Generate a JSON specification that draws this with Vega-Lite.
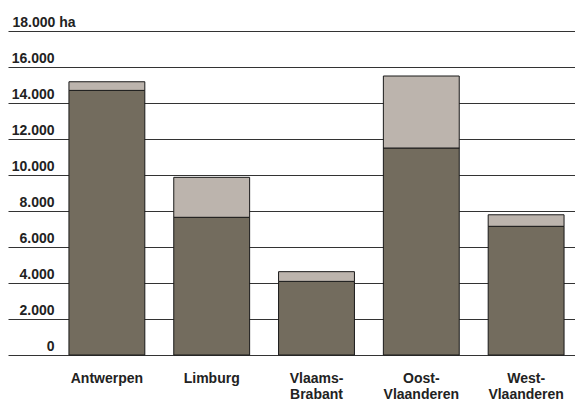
{
  "$schema": "https://vega.github.io/schema/vega-lite/v6.json",
  "width": 567,
  "height": 324,
  "autosize": {"type": "none"},
  "padding": {"left": 8, "top": 31, "right": 0, "bottom": 48},
  "background": "white",
  "data": {
    "values": [
      {"regio": "Antwerpen", "deel": "a", "ha": 14700},
      {"regio": "Antwerpen", "deel": "b", "ha": 480},
      {"regio": "Limburg", "deel": "a", "ha": 7650},
      {"regio": "Limburg", "deel": "b", "ha": 2220},
      {"regio": "Vlaams-Brabant", "deel": "a", "ha": 4090},
      {"regio": "Vlaams-Brabant", "deel": "b", "ha": 540},
      {"regio": "Oost-Vlaanderen", "deel": "a", "ha": 11500},
      {"regio": "Oost-Vlaanderen", "deel": "b", "ha": 4000},
      {"regio": "West-Vlaanderen", "deel": "a", "ha": 7150},
      {"regio": "West-Vlaanderen", "deel": "b", "ha": 640}
    ]
  },
  "mark": {"type": "bar", "stroke": "#1a1a1a", "strokeWidth": 1, "xOffset": 25, "x2Offset": 25},
  "encoding": {
    "x": {
      "field": "regio",
      "type": "nominal",
      "sort": null,
      "scale": {"paddingInner": 0.276, "paddingOuter": 0.343},
      "axis": {
        "title": null,
        "domain": false,
        "ticks": false,
        "labelAngle": 0,
        "labelOffset": 25,
        "labelPadding": 16,
        "labelBaseline": "top",
        "labelFont": "Liberation Sans",
        "labelFontWeight": "bold",
        "labelFontSize": 14,
        "labelColor": "#222",
        "labelLineHeight": 16,
        "labelExpr": "split(replace(datum.label, '-', '-|'), '|')"
      }
    },
    "y": {
      "field": "ha",
      "type": "quantitative",
      "stack": "zero",
      "scale": {"domain": [0, 18000], "nice": false},
      "axis": {
        "title": null,
        "domain": false,
        "ticks": false,
        "values": [0, 2000, 4000, 6000, 8000, 10000, 12000, 14000, 16000, 18000],
        "grid": true,
        "gridColor": "#333",
        "gridWidth": 1,
        "gridOpacity": 1,
        "labelFont": "Liberation Sans",
        "labelFontWeight": "bold",
        "labelFontSize": 14,
        "labelColor": "#222",
        "labelBaseline": "alphabetic",
        "labelOffset": -5,
        "labelAlign": {"condition": {"test": "datum.value === 18000", "value": "left"}, "value": "right"},
        "labelPadding": {"condition": {"test": "datum.value === 18000", "value": -4}, "value": -46},
        "labelExpr": "datum.value === 18000 ? '18.000 ha' : replace(format(datum.value, ','), ',', '.')"
      }
    },
    "color": {
      "field": "deel",
      "type": "nominal",
      "scale": {"domain": ["a", "b"], "range": ["#736c5e", "#bcb4ad"]},
      "legend": null
    },
    "order": {"field": "deel", "type": "nominal", "sort": "ascending"}
  },
  "config": {"view": {"stroke": null}}
}
